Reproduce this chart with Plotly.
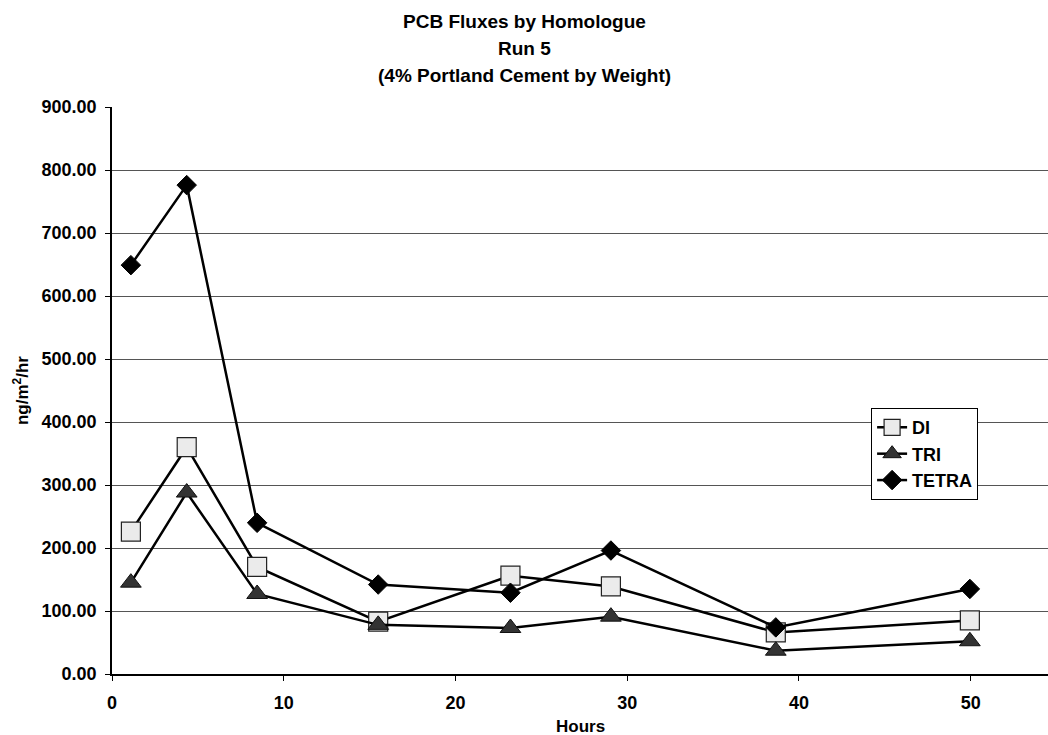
import plotly.graph_objects as go

# Sampling times (hours) and homologue fluxes (ng/m2/hr)
hours = [1.1, 4.35, 8.45, 15.5, 23.2, 29.05, 38.65, 49.95]
di = [226, 360, 170, 83, 156, 139, 66, 85]
tri = [145, 288, 127, 78, 73, 91, 37, 52]
tetra = [649, 776, 240, 142, 129, 196, 74, 135]

y_ticks = [0, 100, 200, 300, 400, 500, 600, 700, 800, 900]
x_ticks = [0, 10, 20, 30, 40, 50]

title_lines = ["PCB Fluxes by Homologue", "Run 5", "(4% Portland Cement by Weight)"]

FONT = "Liberation Sans, Arial, sans-serif"

# plot area in pixels
W, H = 1048, 735
L, R, T, B = 111.5, 0, 106.5, 61
plot_h = H - T - B
plot_w = W - L - R


def py(pix):
    """Pixel row -> paper y."""
    return (H - B - pix) / plot_h


def px(pix):
    """Pixel column -> paper x."""
    return (pix - L) / plot_w


fig = go.Figure()

fig.add_trace(go.Scatter(
    x=hours, y=di, name="<b>DI</b>", mode="lines+markers",
    line=dict(color="black", width=2.5),
    marker=dict(symbol="square", size=19, color="#ebebeb",
                line=dict(color="#222222", width=1.2)),
))
fig.add_trace(go.Scatter(
    x=hours, y=tri, name="<b>TRI</b>", mode="lines+markers",
    line=dict(color="black", width=2.5),
    marker=dict(symbol="triangle-up", size=18, color="#333333",
                line=dict(color="#111111", width=1)),
))
fig.add_trace(go.Scatter(
    x=hours, y=tetra, name="<b>TETRA</b>", mode="lines+markers",
    line=dict(color="black", width=2.5),
    marker=dict(symbol="diamond", size=15, color="black",
                line=dict(color="black", width=1)),
))

annotations = []
for line_txt, row in zip(title_lines, [21, 48, 75]):
    annotations.append(dict(
        text=f"<b>{line_txt}</b>", xref="paper", yref="paper",
        x=px(W / 2), y=py(row), xanchor="center", yanchor="middle",
        showarrow=False, font=dict(family=FONT, size=19, color="black"),
    ))
annotations.append(dict(
    text="<b>Hours</b>", xref="paper", yref="paper",
    x=0.5, y=py(727), xanchor="center", yanchor="middle",
    showarrow=False, font=dict(family=FONT, size=17, color="black"),
))
annotations.append(dict(
    text="<b>ng/m<sup>2</sup>/hr</b>", xref="paper", yref="paper",
    x=px(20), y=0.5, xanchor="center", yanchor="middle", textangle=-90,
    showarrow=False, font=dict(family=FONT, size=17, color="black"),
))

fig.update_layout(
    width=W, height=H,
    margin=dict(l=L, r=R, t=T, b=B),
    paper_bgcolor="white", plot_bgcolor="white",
    font=dict(family=FONT, color="black", size=17),
    showlegend=True,
    legend=dict(
        x=0.811, y=0.469, xanchor="left", yanchor="top",
        bgcolor="white", bordercolor="black", borderwidth=1,
        font=dict(family=FONT, size=18, color="black"),
        itemwidth=30, tracegroupgap=0,
    ),
    annotations=annotations,
)

fig.update_xaxes(
    range=[0, 54.5], tickvals=x_ticks, ticktext=[f"<b>{v}</b>" for v in x_ticks],
    showline=True, linecolor="black", linewidth=1.5,
    ticks="outside", ticklen=5, tickcolor="black",
    showgrid=False, zeroline=False, ticklabelstandoff=7, automargin=False,
    tickfont=dict(family=FONT, size=18),
)
fig.update_yaxes(
    range=[0, 900], tickvals=y_ticks, ticktext=[f"<b>{v:.2f}</b>" for v in y_ticks],
    showline=True, linecolor="black", linewidth=1.5,
    ticks="outside", ticklen=5, tickcolor="black",
    showgrid=True, gridcolor="#555555", gridwidth=1, zeroline=False,
    ticklabelstandoff=5, automargin=False,
    tickfont=dict(family=FONT, size=18),
)

fig.write_html("out.html")
